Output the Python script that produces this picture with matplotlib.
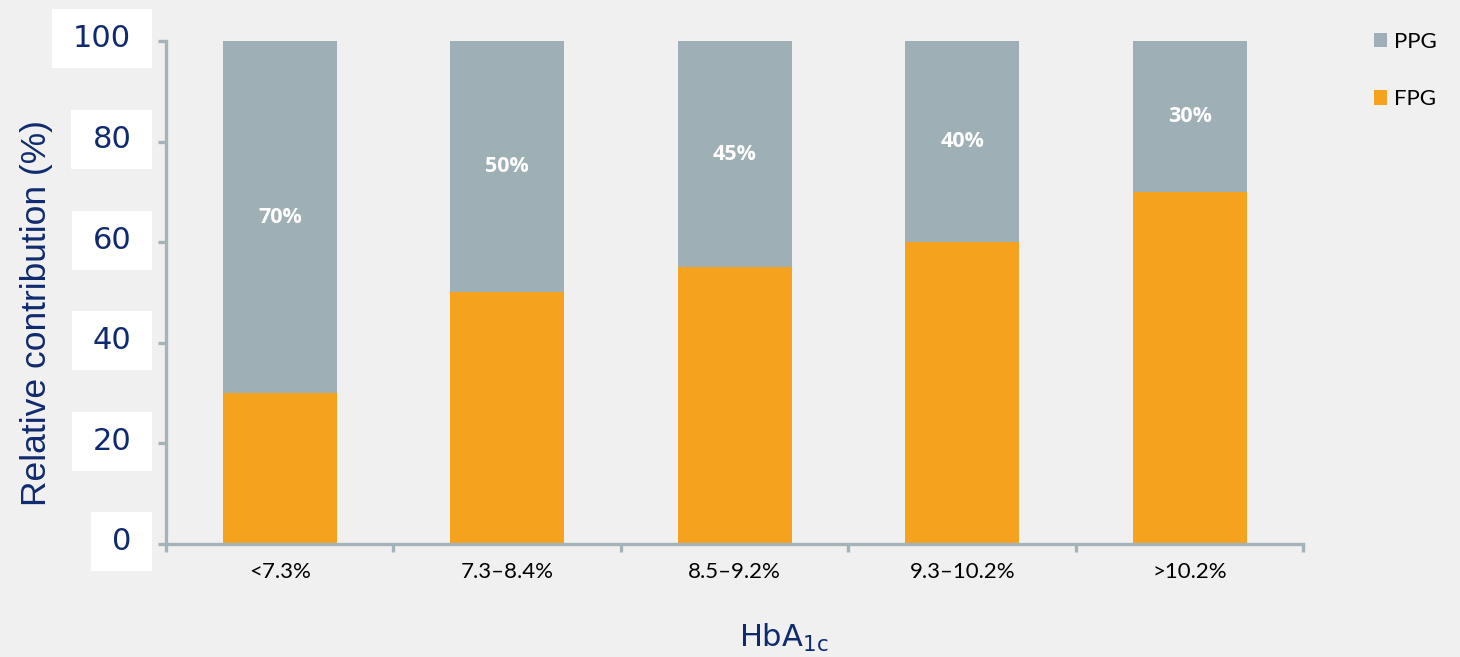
import matplotlib.pyplot as plt
import matplotlib.transforms as mtransforms
from matplotlib.patches import Patch, Rectangle

# HbA1c bands and relative contribution of FPG / PPG (%)
categories = ["<7.3%", "7.3\u20138.4%", "8.5\u20139.2%", "9.3\u201310.2%", ">10.2%"]
fpg = [30, 50, 55, 60, 70]
ppg = [70, 50, 45, 40, 30]
y_ticks = [0, 20, 40, 60, 80, 100]

NAVY = "#0f2a6e"
GREY = "#9eafb5"
ORANGE = "#f5a31f"
SPINE = "#a3b3b8"
BG = "#f0f0f0"

W, H = 1460, 657
fig = plt.figure(figsize=(W / 100, H / 100), dpi=100, facecolor=BG)
ax = fig.add_axes([0.1137, 0.172, 0.7791, 0.7656])
ax.set_facecolor(BG)

x = list(range(len(categories)))
ax.bar(x, fpg, width=0.5, color=ORANGE, label="FPG")
ax.bar(x, ppg, width=0.5, bottom=fpg, color=GREY, label="PPG")

# percentage labels in the middle of the PPG segment
for xi, f, p in zip(x, fpg, ppg):
    ax.text(xi, f + p / 2, f"{p}%", ha="center", va="center", color="white",
            fontsize=15.5, fontweight="bold", family="Open Sans")

ax.set_xlim(-0.5, len(categories) - 0.5)
ax.set_ylim(0, 100)

# ticks sit on category boundaries, labels in the middle
ax.set_xticks([i - 0.5 for i in range(len(categories) + 1)])
ax.set_xticklabels([])
ax.set_xticks(x, minor=True)
ax.set_xticklabels(categories, minor=True, fontsize=16, family="Lato")
ax.tick_params(axis="x", which="minor", length=0, pad=13)
ax.tick_params(axis="x", which="major", length=6, width=2.4, color=SPINE, direction="out")

ax.set_yticks(y_ticks)
ax.set_yticklabels([str(v) for v in y_ticks], fontsize=22, color=NAVY, family="DejaVu Sans")
ax.tick_params(axis="y", length=6, width=2.4, color=SPINE, direction="out", pad=19)

# lift the y labels a little above their ticks
lift = mtransforms.ScaledTranslation(0, 5 / 100, fig.dpi_scale_trans)
for tick in ax.yaxis.get_major_ticks():
    tick.label1.set_transform(tick.label1.get_transform() + lift)

for side in ["top", "right"]:
    ax.spines[side].set_visible(False)
for side in ["left", "bottom"]:
    ax.spines[side].set_color(SPINE)
    ax.spines[side].set_linewidth(2.4)

fig.text(0.0247, 0.524, "Relative contribution (%)", rotation=90, ha="center", va="center",
         fontsize=25.5, color=NAVY, family="Liberation Sans")
fig.text(0.537, 0.029, r"HbA$_\mathregular{1c}$", ha="center", va="center",
         fontsize=22, color=NAVY, family="DejaVu Sans")

handles = [Patch(facecolor=GREY, label="PPG"), Patch(facecolor=ORANGE, label="FPG")]
fig.legend(handles=handles, loc="upper left", bbox_to_anchor=(0.941, 0.952),
           frameon=False, prop={"family": "Lato", "size": 16},
           handlelength=0.6, handleheight=0.6, handletextpad=0.3,
           labelspacing=1.7, borderpad=0, borderaxespad=0)

# white boxes behind the y tick labels
fig.canvas.draw()
renderer = fig.canvas.get_renderer()
for lbl in ax.get_yticklabels():
    ext = lbl.get_window_extent(renderer)
    cy = (ext.y0 + ext.y1) / 2
    x0, x1 = ext.x0 - 21, ext.x1 + 21
    fig.add_artist(Rectangle((x0 / W, (cy - 29.5) / H), (x1 - x0) / W, 59 / H,
                             transform=fig.transFigure, facecolor="white",
                             edgecolor="none", zorder=-1))

fig.savefig("out.png", dpi=100, facecolor=BG)
